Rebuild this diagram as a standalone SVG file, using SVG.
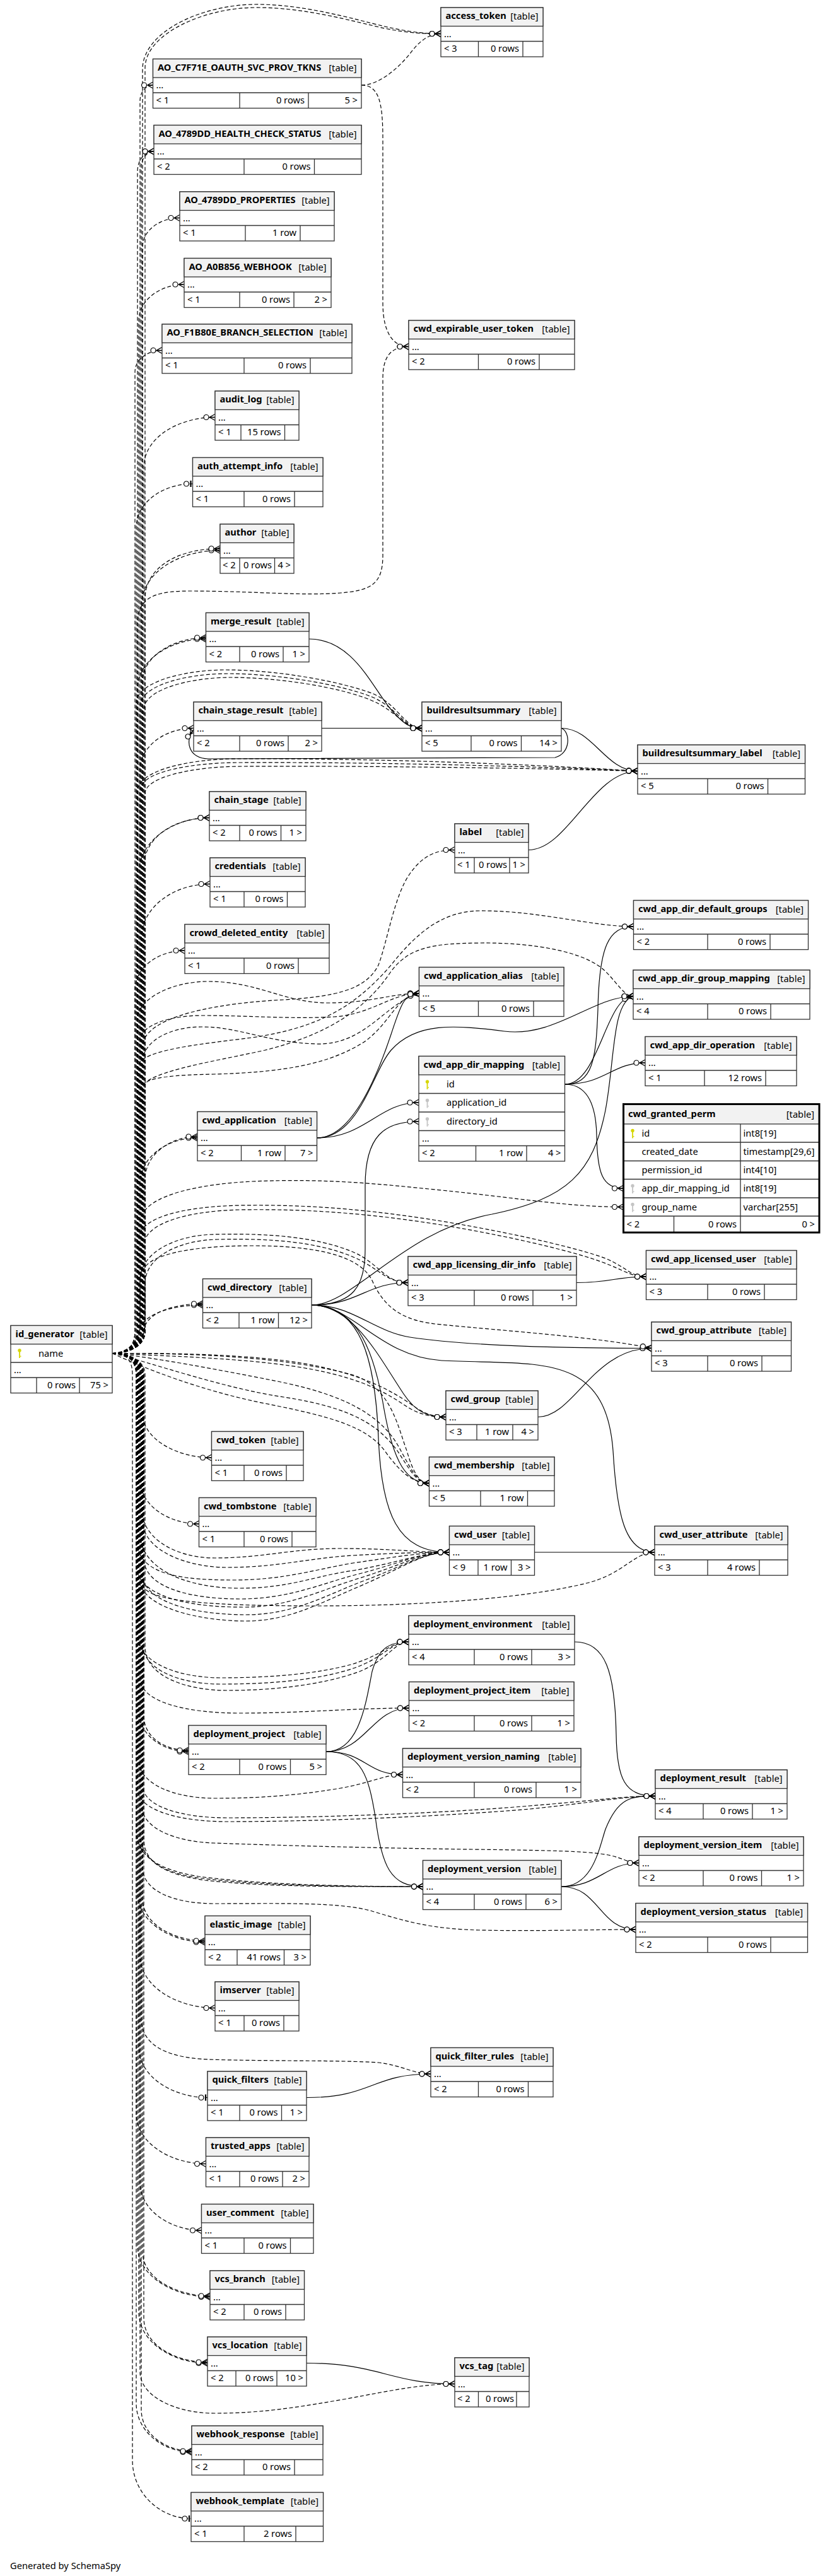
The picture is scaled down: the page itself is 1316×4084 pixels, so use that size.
<svg xmlns="http://www.w3.org/2000/svg" xmlns:xlink="http://www.w3.org/1999/xlink" width="1316" height="4084" viewBox="0 0 1316 4084">
<style>
.bx{fill:#fff;stroke:#333;stroke-width:1.3}
.hd{fill:#f2f2f2;stroke:#333;stroke-width:1.3}
.ln{fill:none;stroke:#333;stroke-width:1.3}
text{font-family:"Noto Sans","DejaVu Sans",sans-serif;font-size:14.67px;fill:#000}
.b{font-weight:bold}
.e{text-anchor:end}
#connectors path{fill:none;stroke:#000;stroke-width:1.2}
#connectors path.d{stroke-dasharray:6 3.5}
</style>
<defs>
<marker id="crow" markerUnits="userSpaceOnUse" orient="auto" refX="0" refY="0" markerWidth="30" markerHeight="20" overflow="visible">
<path d="M-9,0L0,-5M-9,0L0,0M-9,0L0,5" fill="none" stroke="#000" stroke-width="1.3"/>
<circle cx="-14" cy="0" r="4" fill="#fff" stroke="#000" stroke-width="1.2"/>
</marker>
<marker id="tee" markerUnits="userSpaceOnUse" orient="auto" refX="0" refY="0" markerWidth="30" markerHeight="20" overflow="visible">
<path d="M-3,-5V5" fill="none" stroke="#000" stroke-width="2.2"/>
<circle cx="-10" cy="0" r="4" fill="#fff" stroke="#000" stroke-width="1.2"/>
</marker>
<g id="key"><circle cx="0" cy="0" r="2.7"/><rect x="-0.9" y="2" width="1.8" height="10"/><rect x="0.9" y="8.5" width="1.6" height="1.4"/></g>
</defs>
<rect width="1316" height="4084" fill="#fff"/>

<g id="connectors">
<!-- solid relationships -->
<path marker-end="url(#crow)" d="M490,1013C560,1013 590,1090 620,1125C640,1148 650,1154.5 669,1154.5"/>
<path marker-end="url(#crow)" d="M510,1154.5L669,1154.5"/>
<path marker-end="url(#crow)" d="M890,1154.5C905,1160 905,1195 880,1201L330,1203C300,1203 292,1175 307,1157"/>
<path marker-end="url(#crow)" d="M890,1154.5C940,1154.5 960,1222.5 1011,1222.5"/>
<path marker-end="url(#crow)" d="M838,1347.5C900,1347.5 940,1222.5 1011,1222.5"/>
<path marker-end="url(#crow)" d="M502.5,1804C580,1804 600,1748 664,1748"/>
<path marker-end="url(#crow)" d="M502.5,1804C560,1804 600,1700 620,1640C635,1595 640,1575 664.5,1575"/>
<path marker-end="url(#crow)" d="M502.5,1804C570,1804 590,1700 620,1665C660,1620 720,1625 800,1635C880,1645 940,1580 1004,1579.5"/>
<path marker-end="url(#crow)" d="M895.5,1719C940,1719 945,1680 948,1600C950,1500 965,1469 1004.5,1469"/>
<path marker-end="url(#crow)" d="M895.5,1719C950,1719 960,1579.5 1004,1579.5"/>
<path marker-end="url(#crow)" d="M895.5,1719C960,1719 970,1685 1023,1685"/>
<path marker-end="url(#crow)" d="M895.5,1719C930,1719 945,1750 946,1800C947,1860 955,1884 988.5,1884"/>
<path marker-end="url(#crow)" d="M494,2069C560,2069 579,2040 579,1980L579,1880C579,1800 610,1778 664,1778"/>
<path marker-end="url(#crow)" d="M494,2069C560,2069 640,1950 780,1925C900,1900 940,1860 960,1760C975,1680 970,1590 1004,1579.5"/>
<path marker-end="url(#crow)" d="M494,2069C570,2069 580,2033.5 647,2033.5"/>
<path marker-end="url(#crow)" d="M914,2033.5C970,2033.5 975,2024 1024.5,2024"/>
<path marker-end="url(#crow)" d="M494,2069C560,2069 600,2150 640,2210C660,2240 680,2246.5 707,2246.5"/>
<path marker-end="url(#crow)" d="M494,2069C570,2069 595,2150 610,2240C625,2320 645,2351.5 680.5,2351.5"/>
<path marker-end="url(#crow)" d="M494,2069C570,2069 595,2150 600,2280C605,2400 630,2461 712.5,2461"/>
<path marker-end="url(#crow)" d="M494,2069C560,2069 590,2110 650,2120C750,2135 900,2137.5 1033,2137.5"/>
<path marker-end="url(#crow)" d="M494,2069C560,2069 600,2150 700,2157C850,2165 960,2140 972,2300C978,2400 990,2461 1038,2461"/>
<path marker-end="url(#crow)" d="M853,2246.5C910,2246.5 940,2137.5 1033,2137.5"/>
<path marker-end="url(#crow)" d="M847.5,2461L1038,2461"/>
<path marker-end="url(#crow)" d="M517,2777C570,2777 580,2700 590,2650C600,2615 615,2603 648,2603"/>
<path marker-end="url(#crow)" d="M517,2777C580,2777 590,2708 648.5,2708"/>
<path marker-end="url(#crow)" d="M517,2777C580,2777 580,2813.5 638.5,2813.5"/>
<path marker-end="url(#crow)" d="M517,2777C575,2777 585,2820 595,2880C605,2960 620,2991 670.5,2991"/>
<path marker-end="url(#crow)" d="M911,2603C960,2603 975,2650 977,2750C978,2820 990,2847.5 1039,2847.5"/>
<path marker-end="url(#crow)" d="M890,2991C940,2991 950,2930 960,2900C980,2850 1000,2847.5 1039,2847.5"/>
<path marker-end="url(#crow)" d="M890,2991C950,2991 960,2953.5 1013,2953.5"/>
<path marker-end="url(#crow)" d="M890,2991C950,2991 950,3059 1008,3059"/>
<path marker-end="url(#crow)" d="M486,3325.5C590,3325.5 590,3288 683,3288"/>
<path marker-end="url(#crow)" d="M486,3746.5C600,3746.5 620,3779.5 721,3779.5"/>
<!-- implied relationships -->
<path class="d" marker-end="url(#crow)" d="M573,135C600,135 630,110 650,85C665,65 680,53.5 699,53.5"/>
<path class="d" marker-end="url(#crow)" d="M573,135C600,135 607,160 607,220L607,480C607,530 625,549.5 648,549.5"/>
<path class="d" marker-end="url(#crow)" d="M178,2145.5C198,2145.5 226,2138 226,2110L226,110C226,50 320,8 403,7C480,6 560,30 610,42C650,51 675,53.5 699,53.5"/>
<path class="d" marker-end="url(#crow)" d="M178,2145.5C198,2145.5 230,2138 230,2110L230,108C230,54 322,13 403,12C482,11 560,34 610,45C650,53 675,53.5 699,53.5"/>
<path class="d" marker-end="url(#crow)" d="M178,2145.5C198,2145.5 222,2138 222,2110L222,160C222,145 232,135 242.5,135"/>
<path class="d" marker-end="url(#crow)" d="M178,2145.5C198,2145.5 224,2138 224,2110L224,265C224,250 234,240 244,240"/>
<path class="d" marker-end="url(#crow)" d="M178,2145.5C198,2145.5 218,2138 218,2110L218,272C218,252 231,240 244,240"/>
<path class="d" marker-end="url(#crow)" d="M178,2145.5C198,2145.5 226,2138 226,2110L226,392C226,364 255,345.5 285,345.5"/>
<path class="d" marker-end="url(#crow)" d="M178,2145.5C198,2145.5 220,2138 220,2110L220,509C220,474 256,451 292,451"/>
<path class="d" marker-end="url(#crow)" d="M178,2145.5C198,2145.5 214,2138 214,2110L214,590C214,569 235,555.5 257,555.5"/>
<path class="d" marker-end="url(#crow)" d="M178,2145.5C198,2145.5 228,2138 228,2110L228,741C228,693 284,661.5 341,661.5"/>
<path class="d" marker-end="url(#crow)" d="M178,2145.5C198,2145.5 218,2138 218,2110L218,990C218,950 240,937 300,937C400,937 480,945 540,940C590,936 607,925 607,880L607,600C607,565 620,549.5 648,549.5"/>
<path class="d" marker-end="url(#tee)" d="M178,2145.5C198,2145.5 216,2138 216,2110L216,837C216,795 260,767 305.5,767"/>
<path class="d" marker-end="url(#crow)" d="M178,2145.5C198,2145.5 224,2138 224,2110L224,962C224,906 286,872.5 349,872.5"/>
<path class="d" marker-end="url(#crow)" d="M178,2145.5C198,2145.5 230,2138 230,2110L230,950C230,895 290,869 349,870"/>
<path class="d" marker-end="url(#crow)" d="M178,2145.5C198,2145.5 218,2138 218,2110L218,1093C218,1045 272,1013 326.5,1013"/>
<path class="d" marker-end="url(#crow)" d="M178,2145.5C198,2145.5 226,2138 226,2110L226,1080C226,1040 276,1011 326.5,1011"/>
<path class="d" marker-end="url(#crow)" d="M178,2145.5C198,2145.5 222,2138 222,2110L222,1222C222,1181 264,1154.5 307,1154.5"/>
<path class="d" marker-end="url(#crow)" d="M178,2145.5C198,2145.5 222,2138 222,2110L222,1120C222,1085 300,1068 361,1068C440,1068 540,1085 590,1105C630,1122 640,1154.5 669,1154.5"/>
<path class="d" marker-end="url(#crow)" d="M178,2145.5C198,2145.5 228,2138 228,2110L228,1125C228,1092 305,1074 365,1074C445,1074 540,1090 588,1110C628,1126 640,1154.5 669,1154.5"/>
<path class="d" marker-end="url(#crow)" d="M178,2145.5C198,2145.5 216,2138 216,2110L216,1115C216,1080 296,1062 358,1062C438,1062 540,1080 592,1100C632,1118 642,1154.5 669,1154.5"/>
<path class="d" marker-end="url(#crow)" d="M178,2145.5C198,2145.5 224,2138 224,2110L224,1250C224,1225 300,1209 380,1209C600,1208 850,1215 1011,1222.5"/>
<path class="d" marker-end="url(#crow)" d="M178,2145.5C198,2145.5 218,2138 218,2110L218,1255C218,1222 296,1203 380,1203C600,1202 850,1212 1011,1222.5"/>
<path class="d" marker-end="url(#crow)" d="M178,2145.5C198,2145.5 230,2138 230,2110L230,1258C230,1232 305,1215 385,1215C600,1214 850,1218 1011,1222.5"/>
<path class="d" marker-end="url(#crow)" d="M178,2145.5C198,2145.5 220,2138 220,2110L220,1386C220,1332 276,1296.5 332,1296.5"/>
<path class="d" marker-end="url(#crow)" d="M178,2145.5C198,2145.5 228,2138 228,2110L228,1375C228,1325 280,1296.5 332,1296.5"/>
<path class="d" marker-end="url(#crow)" d="M178,2145.5C198,2145.5 226,2138 226,2110L226,1660C226,1610 350,1590 450,1585C530,1580 580,1570 600,1530C615,1490 625,1420 650,1385C670,1357 690,1347.5 721,1347.5"/>
<path class="d" marker-end="url(#crow)" d="M178,2145.5C198,2145.5 224,2138 224,2110L224,1489C224,1436 278,1401.5 333,1401.5"/>
<path class="d" marker-end="url(#crow)" d="M178,2145.5C198,2145.5 214,2138 214,2110L214,1570C214,1532 253,1507 293,1507"/>
<path class="d" marker-end="url(#crow)" d="M178,2145.5C198,2145.5 220,2138 220,2110L220,1690C220,1665 320,1655 400,1645C500,1630 560,1600 620,1530C660,1480 700,1445 760,1444C850,1443 940,1469 1004.5,1469"/>
<path class="d" marker-end="url(#crow)" d="M178,2145.5C198,2145.5 222,2138 222,2110L222,1730C222,1700 330,1685 420,1665C520,1640 580,1600 620,1540C650,1500 690,1496 760,1495C850,1494 930,1510 960,1540C980,1560 990,1579.5 1004,1579.5"/>
<path class="d" marker-end="url(#crow)" d="M178,2145.5C198,2145.5 218,2138 218,2110L218,1615C218,1585 270,1556 330,1556C410,1556 450,1590 520,1590C590,1590 620,1575 664.5,1575"/>
<path class="d" marker-end="url(#crow)" d="M178,2145.5C198,2145.5 222,2138 222,2110L222,1650C222,1625 270,1610 320,1610C400,1610 460,1616 530,1612C590,1608 620,1575 664.5,1575"/>
<path class="d" marker-end="url(#crow)" d="M178,2145.5C198,2145.5 226,2138 226,2110L226,1685C226,1650 270,1628 320,1628C380,1628 420,1652 500,1655C580,1658 610,1590 664.5,1575"/>
<path class="d" marker-end="url(#crow)" d="M178,2145.5C198,2145.5 230,2138 230,2110L230,1720C230,1708 280,1704 340,1703C440,1700 520,1690 580,1650C620,1620 630,1578 664.5,1575"/>
<path class="d" marker-end="url(#crow)" d="M178,2145.5C198,2145.5 222,2138 222,2110L222,1877C222,1833 267,1804 313,1804"/>
<path class="d" marker-end="url(#crow)" d="M178,2145.5C198,2145.5 230,2138 230,2110L230,1870C230,1830 270,1802 313,1802"/>
<path class="d" marker-end="url(#crow)" d="M178,2145.5C198,2145.5 224,2138 224,2110L224,1935C224,1900 300,1878 400,1873C520,1868 600,1877 700,1887C820,1899 900,1913.5 988.5,1913.5"/>
<path class="d" marker-end="url(#crow)" d="M178,2145.5C198,2145.5 220,2138 220,2110L220,1965C220,1930 290,1913 380,1911C500,1909 600,1920 700,1936C820,1956 920,1980 960,1995C995,2010 1000,2024 1024.5,2024"/>
<path class="d" marker-end="url(#crow)" d="M178,2145.5C198,2145.5 228,2138 228,2110L228,1975C228,1940 295,1920 380,1918C500,1916 600,1926 700,1942C820,1962 915,1986 955,2001C990,2014 1000,2024 1024.5,2024"/>
<path class="d" marker-end="url(#crow)" d="M178,2145.5C198,2145.5 222,2130 222,2100L222,2030C222,1985 280,1958 340,1957C420,1955 500,1960 560,1985C600,2002 610,2033.5 647,2033.5"/>
<path class="d" marker-end="url(#crow)" d="M178,2145.5C198,2145.5 230,2130 230,2100L230,2035C230,1992 285,1966 345,1965C425,1963 500,1968 558,1992C598,2008 612,2033.5 647,2033.5"/>
<path class="d" marker-end="url(#crow)" d="M178,2145.5C198,2145.5 220,2135 220,2115C220,2085 270,2069 321.5,2069"/>
<path class="d" marker-end="url(#crow)" d="M178,2145.5C200,2145.5 228,2132 228,2112C228,2082 275,2067 321.5,2067"/>
<path class="d" marker-end="url(#crow)" d="M178,2145.5C198,2145.5 226,2138 226,2110L226,2020C226,1990 300,1975 400,1975C500,1975 570,1990 590,2030C610,2075 640,2095 700,2100C800,2110 950,2120 1033,2137.5"/>
<path class="d" marker-end="url(#crow)" d="M178,2145.5C250,2145.5 400,2145 500,2165C580,2182 620,2205 650,2225C670,2240 685,2246.5 707,2246.5"/>
<path class="d" marker-end="url(#crow)" d="M178,2145.5C250,2150 400,2152 500,2172C580,2188 615,2210 645,2230C665,2243 685,2246.5 707,2246.5"/>
<path class="d" marker-end="url(#crow)" d="M178,2145.5C198,2145.5 226,2153 226,2180L226,2240C226,2282 281,2311 335.5,2311"/>
<path class="d" marker-end="url(#crow)" d="M178,2145.5C300,2145.5 450,2150 560,2180C620,2200 630,2260 645,2300C655,2335 665,2351.5 680.5,2351.5"/>
<path class="d" marker-end="url(#crow)" d="M178,2145.5C240,2160 350,2200 450,2215C560,2232 600,2260 630,2300C650,2330 660,2351.5 680.5,2351.5"/>
<path class="d" marker-end="url(#crow)" d="M178,2145.5C230,2170 320,2205 420,2225C520,2245 580,2260 610,2300C635,2335 655,2351.5 680.5,2351.5"/>
<path class="d" marker-end="url(#crow)" d="M178,2145.5C230,2150 340,2170 440,2190C540,2210 600,2240 630,2290C650,2325 660,2351.5 680.5,2351.5"/>
<path class="d" marker-end="url(#crow)" d="M178,2145.5C198,2145.5 222,2153 222,2180L222,2345C222,2388 269,2416 315.5,2416"/>
<path class="d" marker-end="url(#crow)" d="M178,2145.5C198,2145.5 224,2153 224,2180L224,2390C224,2440 280,2470 340,2470C420,2470 460,2455 540,2455C620,2455 660,2461 712.5,2461"/>
<path class="d" marker-end="url(#crow)" d="M178,2145.5C198,2145.5 222,2153 222,2180L222,2430C222,2490 300,2518 380,2518C460,2518 500,2498 560,2490C630,2478 670,2461 712.5,2461"/>
<path class="d" marker-end="url(#crow)" d="M178,2145.5C198,2145.5 220,2153 220,2180L220,2500C220,2550 320,2570 390,2570C460,2570 510,2540 570,2515C640,2485 670,2461 712.5,2461"/>
<path class="d" marker-end="url(#crow)" d="M178,2145.5C198,2145.5 226,2153 226,2180L226,2410C226,2460 300,2485 360,2485C440,2485 490,2470 560,2466C630,2462 670,2461 712.5,2461"/>
<path class="d" marker-end="url(#crow)" d="M178,2145.5C198,2145.5 218,2153 218,2180L218,2445C218,2500 300,2505 370,2505C450,2505 500,2488 560,2478C630,2468 670,2461 712.5,2461"/>
<path class="d" marker-end="url(#crow)" d="M178,2145.5C198,2145.5 228,2153 228,2180L228,2470C228,2520 310,2535 380,2535C460,2535 510,2510 570,2495C635,2478 670,2461 712.5,2461"/>
<path class="d" marker-end="url(#crow)" d="M178,2145.5C198,2145.5 216,2153 216,2180L216,2480C216,2535 310,2548 385,2548C460,2548 510,2520 570,2502C635,2482 670,2461 712.5,2461"/>
<path class="d" marker-end="url(#crow)" d="M178,2145.5C198,2145.5 224,2153 224,2180L224,2490C224,2545 320,2560 390,2560C465,2560 515,2530 572,2508C638,2484 672,2461 712.5,2461"/>
<path class="d" marker-end="url(#crow)" d="M178,2145.5C198,2145.5 226,2153 226,2180L226,2510C226,2535 300,2546 500,2546C700,2546 850,2530 930,2510C990,2495 1005,2461 1038,2461"/>
<path class="d" marker-end="url(#crow)" d="M178,2145.5C198,2145.5 224,2153 224,2180L224,2600C224,2650 290,2670 350,2670C420,2670 500,2665 560,2645C610,2628 620,2603 648,2603"/>
<path class="d" marker-end="url(#crow)" d="M178,2145.5C198,2145.5 218,2153 218,2180L218,2590C218,2640 290,2660 350,2660C420,2660 500,2655 560,2638C610,2622 620,2603 648,2603"/>
<path class="d" marker-end="url(#crow)" d="M178,2145.5C198,2145.5 230,2153 230,2180L230,2610C230,2660 300,2680 360,2680C430,2680 510,2672 570,2650C615,2632 625,2603 648,2603"/>
<path class="d" marker-end="url(#crow)" d="M178,2145.5C198,2145.5 222,2153 222,2180L222,2660C222,2700 300,2716 380,2716C480,2716 560,2708 648.5,2708"/>
<path class="d" marker-end="url(#crow)" d="M178,2145.5C198,2145.5 220,2153 220,2180L220,2712C220,2752 260,2777 299,2777"/>
<path class="d" marker-end="url(#crow)" d="M178,2145.5C198,2145.5 228,2153 228,2180L228,2720C228,2755 262,2775 299,2775"/>
<path class="d" marker-end="url(#crow)" d="M178,2145.5C198,2145.5 220,2153 220,2180L220,2790C220,2830 280,2851 340,2851C420,2851 480,2845 540,2835C590,2826 610,2813.5 638.5,2813.5"/>
<path class="d" marker-end="url(#crow)" d="M178,2145.5C198,2145.5 226,2153 226,2180L226,2830C226,2865 290,2882 360,2882C500,2882 700,2875 840,2863C940,2855 990,2847.5 1039,2847.5"/>
<path class="d" marker-end="url(#crow)" d="M178,2145.5C198,2145.5 218,2153 218,2180L218,2835C218,2872 290,2888 360,2888C500,2888 700,2880 840,2868C940,2858 990,2847.5 1039,2847.5"/>
<path class="d" marker-end="url(#crow)" d="M178,2145.5C198,2145.5 224,2153 224,2180L224,2860C224,2900 280,2920 340,2922C450,2926 600,2930 750,2932C900,2934 950,2935 980,2945C995,2950 1000,2953.5 1013,2953.5"/>
<path class="d" marker-end="url(#crow)" d="M178,2145.5C198,2145.5 222,2153 222,2180L222,2905C222,2950 260,2970 320,2978C420,2990 550,2991 670.5,2991"/>
<path class="d" marker-end="url(#crow)" d="M178,2145.5C198,2145.5 228,2153 228,2180L228,2915C228,2955 265,2972 325,2981C425,2992 550,2991 670.5,2991"/>
<path class="d" marker-end="url(#crow)" d="M178,2145.5C198,2145.5 216,2153 216,2180L216,2900C216,2945 255,2965 315,2975C415,2988 550,2991 670.5,2991"/>
<path class="d" marker-end="url(#crow)" d="M178,2145.5C198,2145.5 226,2153 226,2180L226,2960C226,3000 280,3018 340,3018C440,3018 540,3015 590,3030C640,3045 680,3058 760,3060C850,3062 950,3059 1008,3059"/>
<path class="d" marker-end="url(#crow)" d="M178,2145.5C198,2145.5 218,2153 218,2180L218,3000C218,3048 272,3079 325,3079"/>
<path class="d" marker-end="url(#crow)" d="M178,2145.5C198,2145.5 226,2153 226,2180L226,3010C226,3050 275,3077 325,3077"/>
<path class="d" marker-end="url(#crow)" d="M178,2145.5C198,2145.5 222,2153 222,2180L222,3100C222,3150 282,3183.5 341,3183.5"/>
<path class="d" marker-end="url(#crow)" d="M178,2145.5C198,2145.5 224,2153 224,2180L224,3200C224,3240 260,3262 330,3265C420,3268 540,3266 600,3270C640,3275 655,3288 683,3288"/>
<path class="d" marker-end="url(#tee)" d="M178,2145.5C198,2145.5 220,2153 220,2180L220,3245C220,3293 275,3325.5 329,3325.5"/>
<path class="d" marker-end="url(#crow)" d="M178,2145.5C198,2145.5 216,2153 216,2180L216,3350C216,3398 271,3430.5 326.5,3430.5"/>
<path class="d" marker-end="url(#crow)" d="M178,2145.5C198,2145.5 222,2153 222,2180L222,3460C222,3505 271,3536 319.5,3536"/>
<path class="d" marker-end="url(#crow)" d="M178,2145.5C198,2145.5 218,2153 218,2180L218,3560C218,3609 276,3641.5 333,3641.5"/>
<path class="d" marker-end="url(#crow)" d="M178,2145.5C198,2145.5 226,2153 226,2180L226,3570C226,3612 280,3640 333,3640"/>
<path class="d" marker-end="url(#crow)" d="M178,2145.5C198,2145.5 220,2153 220,2180L220,3665C220,3714 275,3746.5 329,3746.5"/>
<path class="d" marker-end="url(#crow)" d="M178,2145.5C198,2145.5 228,2153 228,2180L228,3675C228,3718 278,3745 329,3745"/>
<path class="d" marker-end="url(#crow)" d="M178,2145.5C198,2145.5 222,2153 222,2180L222,3760C222,3800 280,3826 340,3826C420,3826 480,3815 550,3803C620,3790 670,3779.5 721,3779.5"/>
<path class="d" marker-end="url(#crow)" d="M178,2145.5C198,2145.5 216,2153 216,2180L216,3810C216,3856 260,3887.5 304,3887.5"/>
<path class="d" marker-end="url(#crow)" d="M178,2145.5C198,2145.5 224,2153 224,2180L224,3820C224,3860 264,3886 304,3886"/>
<path class="d" marker-end="url(#tee)" d="M178,2145.5C198,2145.5 210,2153 210,2180L210,3900C210,3955 256,3993 303,3993"/>
</g>

<g id="access_token"><rect class="bx" x="699" y="12" width="162" height="78"/><rect class="hd" x="699" y="12" width="162" height="29.5"/><path class="ln" d="M699,65.5H861M758.5,65.5V90M829,65.5V90"/><text class="b" x="706.5" y="30">access_token</text><text class="e" x="853.5" y="31">[table]</text><text x="704" y="58.5">...</text><text x="704" y="82">&lt; 3</text><text class="e" x="823" y="82">0 rows</text></g>
<g id="AO_C7F71E_OAUTH_SVC_PROV_TKNS"><rect class="bx" x="242.5" y="93.5" width="330.5" height="78"/><rect class="hd" x="242.5" y="93.5" width="330.5" height="29.5"/><path class="ln" d="M242.5,147H573M380,147V171.5M489,147V171.5"/><text class="b" x="250" y="111.5">AO_C7F71E_OAUTH_SVC_PROV_TKNS</text><text class="e" x="565.5" y="112.5">[table]</text><text x="247.5" y="140">...</text><text x="247.5" y="163.5">&lt; 1</text><text class="e" x="483" y="163.5">0 rows</text><text class="e" x="567" y="163.5">5 &gt;</text></g>
<g id="AO_4789DD_HEALTH_CHECK_STATUS"><rect class="bx" x="244" y="198.5" width="329" height="78"/><rect class="hd" x="244" y="198.5" width="329" height="29.5"/><path class="ln" d="M244,252H573M387,252V276.5M498.5,252V276.5"/><text class="b" x="251.5" y="216.5">AO_4789DD_HEALTH_CHECK_STATUS</text><text class="e" x="565.5" y="217.5">[table]</text><text x="249" y="245">...</text><text x="249" y="268.5">&lt; 2</text><text class="e" x="492.5" y="268.5">0 rows</text></g>
<g id="AO_4789DD_PROPERTIES"><rect class="bx" x="285" y="304" width="245" height="78"/><rect class="hd" x="285" y="304" width="245" height="29.5"/><path class="ln" d="M285,357.5H530M389,357.5V382M476,357.5V382"/><text class="b" x="292.5" y="322">AO_4789DD_PROPERTIES</text><text class="e" x="522.5" y="323">[table]</text><text x="290" y="350.5">...</text><text x="290" y="374">&lt; 1</text><text class="e" x="470" y="374">1 row</text></g>
<g id="AO_A0B856_WEBHOOK"><rect class="bx" x="292" y="409.5" width="233" height="78"/><rect class="hd" x="292" y="409.5" width="233" height="29.5"/><path class="ln" d="M292,463H525M380,463V487.5M466,463V487.5"/><text class="b" x="299.5" y="427.5">AO_A0B856_WEBHOOK</text><text class="e" x="517.5" y="428.5">[table]</text><text x="297" y="456">...</text><text x="297" y="479.5">&lt; 1</text><text class="e" x="460" y="479.5">0 rows</text><text class="e" x="519" y="479.5">2 &gt;</text></g>
<g id="AO_F1B80E_BRANCH_SELECTION"><rect class="bx" x="257" y="514" width="301" height="78"/><rect class="hd" x="257" y="514" width="301" height="29.5"/><path class="ln" d="M257,567.5H558M387,567.5V592M492,567.5V592"/><text class="b" x="264.5" y="532">AO_F1B80E_BRANCH_SELECTION</text><text class="e" x="550.5" y="533">[table]</text><text x="262" y="560.5">...</text><text x="262" y="584">&lt; 1</text><text class="e" x="486" y="584">0 rows</text></g>
<g id="audit_log"><rect class="bx" x="341" y="620" width="133" height="78"/><rect class="hd" x="341" y="620" width="133" height="29.5"/><path class="ln" d="M341,673.5H474M382,673.5V698M451.5,673.5V698"/><text class="b" x="348.5" y="638">audit_log</text><text class="e" x="466.5" y="639">[table]</text><text x="346" y="666.5">...</text><text x="346" y="690">&lt; 1</text><text class="e" x="445.5" y="690">15 rows</text></g>
<g id="cwd_expirable_user_token"><rect class="bx" x="648" y="508" width="263" height="78"/><rect class="hd" x="648" y="508" width="263" height="29.5"/><path class="ln" d="M648,561.5H911M758.5,561.5V586M855,561.5V586"/><text class="b" x="655.5" y="526">cwd_expirable_user_token</text><text class="e" x="903.5" y="527">[table]</text><text x="653" y="554.5">...</text><text x="653" y="578">&lt; 2</text><text class="e" x="849" y="578">0 rows</text></g>
<g id="auth_attempt_info"><rect class="bx" x="305.5" y="725.5" width="206.5" height="78"/><rect class="hd" x="305.5" y="725.5" width="206.5" height="29.5"/><path class="ln" d="M305.5,779H512M387,779V803.5M467,779V803.5"/><text class="b" x="313" y="743.5">auth_attempt_info</text><text class="e" x="504.5" y="744.5">[table]</text><text x="310.5" y="772">...</text><text x="310.5" y="795.5">&lt; 1</text><text class="e" x="461" y="795.5">0 rows</text></g>
<g id="author"><rect class="bx" x="349" y="831" width="117" height="78"/><rect class="hd" x="349" y="831" width="117" height="29.5"/><path class="ln" d="M349,884.5H466M380,884.5V909M435.5,884.5V909"/><text class="b" x="356.5" y="849">author</text><text class="e" x="458.5" y="850">[table]</text><text x="354" y="877.5">...</text><text x="353" y="901">&lt; 2</text><text class="e" x="431" y="901">0 rows</text><text class="e" x="461" y="901">4 &gt;</text></g>
<g id="merge_result"><rect class="bx" x="326.5" y="971.5" width="163.5" height="78"/><rect class="hd" x="326.5" y="971.5" width="163.5" height="29.5"/><path class="ln" d="M326.5,1025H490M380,1025V1049.5M449,1025V1049.5"/><text class="b" x="334" y="989.5">merge_result</text><text class="e" x="482.5" y="990.5">[table]</text><text x="331.5" y="1018">...</text><text x="331.5" y="1041.5">&lt; 2</text><text class="e" x="443" y="1041.5">0 rows</text><text class="e" x="484" y="1041.5">1 &gt;</text></g>
<g id="chain_stage_result"><rect class="bx" x="307" y="1113" width="203" height="78"/><rect class="hd" x="307" y="1113" width="203" height="29.5"/><path class="ln" d="M307,1166.5H510M380,1166.5V1191M457,1166.5V1191"/><text class="b" x="314.5" y="1131">chain_stage_result</text><text class="e" x="502.5" y="1132">[table]</text><text x="312" y="1159.5">...</text><text x="312" y="1183">&lt; 2</text><text class="e" x="451" y="1183">0 rows</text><text class="e" x="504" y="1183">2 &gt;</text></g>
<g id="buildresultsummary"><rect class="bx" x="669" y="1113" width="221" height="78"/><rect class="hd" x="669" y="1113" width="221" height="29.5"/><path class="ln" d="M669,1166.5H890M747,1166.5V1191M826.5,1166.5V1191"/><text class="b" x="676.5" y="1131">buildresultsummary</text><text class="e" x="882.5" y="1132">[table]</text><text x="674" y="1159.5">...</text><text x="674" y="1183">&lt; 5</text><text class="e" x="820.5" y="1183">0 rows</text><text class="e" x="884" y="1183">14 &gt;</text></g>
<g id="buildresultsummary_label"><rect class="bx" x="1011" y="1181" width="265.5" height="78"/><rect class="hd" x="1011" y="1181" width="265.5" height="29.5"/><path class="ln" d="M1011,1234.5H1276.5M1122,1234.5V1259M1217.5,1234.5V1259"/><text class="b" x="1018.5" y="1199">buildresultsummary_label</text><text class="e" x="1269" y="1200">[table]</text><text x="1016" y="1227.5">...</text><text x="1016" y="1251">&lt; 5</text><text class="e" x="1211.5" y="1251">0 rows</text></g>
<g id="chain_stage"><rect class="bx" x="332" y="1255" width="153" height="78"/><rect class="hd" x="332" y="1255" width="153" height="29.5"/><path class="ln" d="M332,1308.5H485M380,1308.5V1333M445.5,1308.5V1333"/><text class="b" x="339.5" y="1273">chain_stage</text><text class="e" x="477.5" y="1274">[table]</text><text x="337" y="1301.5">...</text><text x="337" y="1325">&lt; 2</text><text class="e" x="439.5" y="1325">0 rows</text><text class="e" x="479" y="1325">1 &gt;</text></g>
<g id="label"><rect class="bx" x="721" y="1306" width="117" height="78"/><rect class="hd" x="721" y="1306" width="117" height="29.5"/><path class="ln" d="M721,1359.5H838M752,1359.5V1384M808,1359.5V1384"/><text class="b" x="728.5" y="1324">label</text><text class="e" x="830.5" y="1325">[table]</text><text x="726" y="1352.5">...</text><text x="725" y="1376">&lt; 1</text><text class="e" x="804" y="1376">0 rows</text><text class="e" x="833" y="1376">1 &gt;</text></g>
<g id="credentials"><rect class="bx" x="333" y="1360" width="151" height="78"/><rect class="hd" x="333" y="1360" width="151" height="29.5"/><path class="ln" d="M333,1413.5H484M387,1413.5V1438M455.5,1413.5V1438"/><text class="b" x="340.5" y="1378">credentials</text><text class="e" x="476.5" y="1379">[table]</text><text x="338" y="1406.5">...</text><text x="338" y="1430">&lt; 1</text><text class="e" x="449.5" y="1430">0 rows</text></g>
<g id="crowd_deleted_entity"><rect class="bx" x="293" y="1465.5" width="229" height="78"/><rect class="hd" x="293" y="1465.5" width="229" height="29.5"/><path class="ln" d="M293,1519H522M387,1519V1543.5M473,1519V1543.5"/><text class="b" x="300.5" y="1483.5">crowd_deleted_entity</text><text class="e" x="514.5" y="1484.5">[table]</text><text x="298" y="1512">...</text><text x="298" y="1535.5">&lt; 1</text><text class="e" x="467" y="1535.5">0 rows</text></g>
<g id="cwd_app_dir_default_groups"><rect class="bx" x="1004.5" y="1427.5" width="277" height="78"/><rect class="hd" x="1004.5" y="1427.5" width="277" height="29.5"/><path class="ln" d="M1004.5,1481H1281.5M1122,1481V1505.5M1221,1481V1505.5"/><text class="b" x="1012" y="1445.5">cwd_app_dir_default_groups</text><text class="e" x="1274" y="1446.5">[table]</text><text x="1009.5" y="1474">...</text><text x="1009.5" y="1497.5">&lt; 2</text><text class="e" x="1215" y="1497.5">0 rows</text></g>
<g id="cwd_application_alias"><rect class="bx" x="664.5" y="1533.5" width="229.5" height="78"/><rect class="hd" x="664.5" y="1533.5" width="229.5" height="29.5"/><path class="ln" d="M664.5,1587H894M758.5,1587V1611.5M846,1587V1611.5"/><text class="b" x="672" y="1551.5">cwd_application_alias</text><text class="e" x="886.5" y="1552.5">[table]</text><text x="669.5" y="1580">...</text><text x="669.5" y="1603.5">&lt; 5</text><text class="e" x="840" y="1603.5">0 rows</text></g>
<g id="cwd_app_dir_group_mapping"><rect class="bx" x="1004" y="1538" width="280" height="78"/><rect class="hd" x="1004" y="1538" width="280" height="29.5"/><path class="ln" d="M1004,1591.5H1284M1122,1591.5V1616M1222,1591.5V1616"/><text class="b" x="1011.5" y="1556">cwd_app_dir_group_mapping</text><text class="e" x="1276.5" y="1557">[table]</text><text x="1009" y="1584.5">...</text><text x="1009" y="1608">&lt; 4</text><text class="e" x="1216" y="1608">0 rows</text></g>
<g id="cwd_app_dir_operation"><rect class="bx" x="1023" y="1643.5" width="240" height="78"/><rect class="hd" x="1023" y="1643.5" width="240" height="29.5"/><path class="ln" d="M1023,1697H1263M1117,1697V1721.5M1214,1697V1721.5"/><text class="b" x="1030.5" y="1661.5">cwd_app_dir_operation</text><text class="e" x="1255.5" y="1662.5">[table]</text><text x="1028" y="1690">...</text><text x="1028" y="1713.5">&lt; 1</text><text class="e" x="1208" y="1713.5">12 rows</text></g>
<g id="cwd_app_dir_mapping"><rect class="bx" x="664" y="1674.5" width="231.5" height="166.5"/><rect class="hd" x="664" y="1674.5" width="231.5" height="29.5"/><path class="ln" d="M664,1733.5H895.5M664,1763H895.5M664,1792.5H895.5M664,1816.5H895.5M754.5,1816.5V1841M835,1816.5V1841"/><text class="b" x="671.5" y="1692.5">cwd_app_dir_mapping</text><text class="e" x="888" y="1693.5">[table]</text><use href="#key" x="677.5" y="1715" fill="#d6d600"/><use href="#key" x="677.5" y="1744.5" fill="#c4c4c4"/><use href="#key" x="677.5" y="1774" fill="#c4c4c4"/><text x="708" y="1723.5">id</text><text x="708" y="1753">application_id</text><text x="708" y="1782.5">directory_id</text><text x="669" y="1809.5">...</text><text x="669" y="1833">&lt; 2</text><text class="e" x="829" y="1833">1 row</text><text class="e" x="889.5" y="1833">4 &gt;</text></g>
<g id="cwd_granted_perm"><rect x="988.5" y="1750.5" width="310.5" height="203.5" fill="#fff"/><rect class="hd" x="988.5" y="1750.5" width="310.5" height="31.5"/><path class="ln" d="M988.5,1811H1299M988.5,1840.5H1299M988.5,1869.5H1299M988.5,1899H1299M988.5,1928H1299M1174,1782V1954M1068.5,1928V1954"/><rect x="988.5" y="1750.5" width="310.5" height="203.5" fill="none" stroke="#000" stroke-width="3"/><text class="b" x="996" y="1771">cwd_granted_perm</text><text class="e" x="1291" y="1772">[table]</text><use href="#key" x="1003" y="1792.5" fill="#d6d600"/><use href="#key" x="1003" y="1880" fill="#c4c4c4"/><use href="#key" x="1003" y="1909.5" fill="#c4c4c4"/><text x="1017.5" y="1801.5">id</text><text x="1017.5" y="1830.5">created_date</text><text x="1017.5" y="1860">permission_id</text><text x="1017.5" y="1889">app_dir_mapping_id</text><text x="1017.5" y="1918.5">group_name</text><text x="1178.5" y="1801.5">int8[19]</text><text x="1178.5" y="1830.5">timestamp[29,6]</text><text x="1178.5" y="1860">int4[10]</text><text x="1178.5" y="1889">int8[19]</text><text x="1178.5" y="1918.5">varchar[255]</text><text x="993.5" y="1946">&lt; 2</text><text class="e" x="1168" y="1946">0 rows</text><text class="e" x="1292" y="1946">0 &gt;</text></g>
<g id="cwd_application"><rect class="bx" x="313" y="1762.5" width="189.5" height="78"/><rect class="hd" x="313" y="1762.5" width="189.5" height="29.5"/><path class="ln" d="M313,1816H502.5M382.5,1816V1840.5M452,1816V1840.5"/><text class="b" x="320.5" y="1780.5">cwd_application</text><text class="e" x="495" y="1781.5">[table]</text><text x="318" y="1809">...</text><text x="318" y="1832.5">&lt; 2</text><text class="e" x="446" y="1832.5">1 row</text><text class="e" x="496.5" y="1832.5">7 &gt;</text></g>
<g id="cwd_app_licensing_dir_info"><rect class="bx" x="647" y="1992" width="267" height="78"/><rect class="hd" x="647" y="1992" width="267" height="29.5"/><path class="ln" d="M647,2045.5H914M752,2045.5V2070M845,2045.5V2070"/><text class="b" x="654.5" y="2010">cwd_app_licensing_dir_info</text><text class="e" x="906.5" y="2011">[table]</text><text x="652" y="2038.5">...</text><text x="652" y="2062">&lt; 3</text><text class="e" x="839" y="2062">0 rows</text><text class="e" x="908" y="2062">1 &gt;</text></g>
<g id="cwd_app_licensed_user"><rect class="bx" x="1024.5" y="1982.5" width="238.5" height="78"/><rect class="hd" x="1024.5" y="1982.5" width="238.5" height="29.5"/><path class="ln" d="M1024.5,2036H1263M1122,2036V2060.5M1212,2036V2060.5"/><text class="b" x="1032" y="2000.5">cwd_app_licensed_user</text><text class="e" x="1255.5" y="2001.5">[table]</text><text x="1029.5" y="2029">...</text><text x="1029.5" y="2052.5">&lt; 3</text><text class="e" x="1206" y="2052.5">0 rows</text></g>
<g id="cwd_directory"><rect class="bx" x="321.5" y="2027.5" width="172.5" height="78"/><rect class="hd" x="321.5" y="2027.5" width="172.5" height="29.5"/><path class="ln" d="M321.5,2081H494M379,2081V2105.5M441.5,2081V2105.5"/><text class="b" x="329" y="2045.5">cwd_directory</text><text class="e" x="486.5" y="2046.5">[table]</text><text x="326.5" y="2074">...</text><text x="326.5" y="2097.5">&lt; 2</text><text class="e" x="435.5" y="2097.5">1 row</text><text class="e" x="488" y="2097.5">12 &gt;</text></g>
<g id="cwd_group_attribute"><rect class="bx" x="1033" y="2096" width="221.5" height="78"/><rect class="hd" x="1033" y="2096" width="221.5" height="29.5"/><path class="ln" d="M1033,2149.5H1254.5M1122,2149.5V2174M1208,2149.5V2174"/><text class="b" x="1040.5" y="2114">cwd_group_attribute</text><text class="e" x="1247" y="2115">[table]</text><text x="1038" y="2142.5">...</text><text x="1038" y="2166">&lt; 3</text><text class="e" x="1202" y="2166">0 rows</text></g>
<g id="id_generator"><rect class="bx" x="17" y="2101.5" width="161" height="107"/><rect class="hd" x="17" y="2101.5" width="161" height="29.5"/><path class="ln" d="M17,2160H178M17,2184H178M58,2184V2208.5M126,2184V2208.5"/><text class="b" x="24.5" y="2119.5">id_generator</text><text class="e" x="170.5" y="2120.5">[table]</text><use href="#key" x="31" y="2141" fill="#d6d600"/><text x="61" y="2150.5">name</text><text x="22" y="2177">...</text><text class="e" x="120" y="2200.5">0 rows</text><text class="e" x="172" y="2200.5">75 &gt;</text></g>
<g id="cwd_group"><rect class="bx" x="707" y="2205" width="146" height="78"/><rect class="hd" x="707" y="2205" width="146" height="29.5"/><path class="ln" d="M707,2258.5H853M756,2258.5V2283M813,2258.5V2283"/><text class="b" x="714.5" y="2223">cwd_group</text><text class="e" x="845.5" y="2224">[table]</text><text x="712" y="2251.5">...</text><text x="712" y="2275">&lt; 3</text><text class="e" x="807" y="2275">1 row</text><text class="e" x="847" y="2275">4 &gt;</text></g>
<g id="cwd_token"><rect class="bx" x="335.5" y="2269.5" width="145.5" height="78"/><rect class="hd" x="335.5" y="2269.5" width="145.5" height="29.5"/><path class="ln" d="M335.5,2323H481M387,2323V2347.5M454,2323V2347.5"/><text class="b" x="343" y="2287.5">cwd_token</text><text class="e" x="473.5" y="2288.5">[table]</text><text x="340.5" y="2316">...</text><text x="340.5" y="2339.5">&lt; 1</text><text class="e" x="448" y="2339.5">0 rows</text></g>
<g id="cwd_membership"><rect class="bx" x="680.5" y="2310" width="198.5" height="78"/><rect class="hd" x="680.5" y="2310" width="198.5" height="29.5"/><path class="ln" d="M680.5,2363.5H879M762,2363.5V2388M836.5,2363.5V2388"/><text class="b" x="688" y="2328">cwd_membership</text><text class="e" x="871.5" y="2329">[table]</text><text x="685.5" y="2356.5">...</text><text x="685.5" y="2380">&lt; 5</text><text class="e" x="830.5" y="2380">1 row</text></g>
<g id="cwd_tombstone"><rect class="bx" x="315.5" y="2374.5" width="185.5" height="78"/><rect class="hd" x="315.5" y="2374.5" width="185.5" height="29.5"/><path class="ln" d="M315.5,2428H501M387,2428V2452.5M463,2428V2452.5"/><text class="b" x="323" y="2392.5">cwd_tombstone</text><text class="e" x="493.5" y="2393.5">[table]</text><text x="320.5" y="2421">...</text><text x="320.5" y="2444.5">&lt; 1</text><text class="e" x="457" y="2444.5">0 rows</text></g>
<g id="cwd_user"><rect class="bx" x="712.5" y="2419.5" width="135" height="78"/><rect class="hd" x="712.5" y="2419.5" width="135" height="29.5"/><path class="ln" d="M712.5,2473H847.5M758,2473V2497.5M810.5,2473V2497.5"/><text class="b" x="720" y="2437.5">cwd_user</text><text class="e" x="840" y="2438.5">[table]</text><text x="717.5" y="2466">...</text><text x="717.5" y="2489.5">&lt; 9</text><text class="e" x="804.5" y="2489.5">1 row</text><text class="e" x="841.5" y="2489.5">3 &gt;</text></g>
<g id="cwd_user_attribute"><rect class="bx" x="1038" y="2419.5" width="211" height="78"/><rect class="hd" x="1038" y="2419.5" width="211" height="29.5"/><path class="ln" d="M1038,2473H1249M1122,2473V2497.5M1204,2473V2497.5"/><text class="b" x="1045.5" y="2437.5">cwd_user_attribute</text><text class="e" x="1241.5" y="2438.5">[table]</text><text x="1043" y="2466">...</text><text x="1043" y="2489.5">&lt; 3</text><text class="e" x="1198" y="2489.5">4 rows</text></g>
<g id="deployment_environment"><rect class="bx" x="648" y="2561.5" width="263" height="78"/><rect class="hd" x="648" y="2561.5" width="263" height="29.5"/><path class="ln" d="M648,2615H911M752,2615V2639.5M843,2615V2639.5"/><text class="b" x="655.5" y="2579.5">deployment_environment</text><text class="e" x="903.5" y="2580.5">[table]</text><text x="653" y="2608">...</text><text x="653" y="2631.5">&lt; 4</text><text class="e" x="837" y="2631.5">0 rows</text><text class="e" x="905" y="2631.5">3 &gt;</text></g>
<g id="deployment_project_item"><rect class="bx" x="648.5" y="2666.5" width="261.5" height="78"/><rect class="hd" x="648.5" y="2666.5" width="261.5" height="29.5"/><path class="ln" d="M648.5,2720H910M752,2720V2744.5M843,2720V2744.5"/><text class="b" x="656" y="2684.5">deployment_project_item</text><text class="e" x="902.5" y="2685.5">[table]</text><text x="653.5" y="2713">...</text><text x="653.5" y="2736.5">&lt; 2</text><text class="e" x="837" y="2736.5">0 rows</text><text class="e" x="904" y="2736.5">1 &gt;</text></g>
<g id="deployment_project"><rect class="bx" x="299" y="2735.5" width="218" height="78"/><rect class="hd" x="299" y="2735.5" width="218" height="29.5"/><path class="ln" d="M299,2789H517M380,2789V2813.5M460.5,2789V2813.5"/><text class="b" x="306.5" y="2753.5">deployment_project</text><text class="e" x="509.5" y="2754.5">[table]</text><text x="304" y="2782">...</text><text x="304" y="2805.5">&lt; 2</text><text class="e" x="454.5" y="2805.5">0 rows</text><text class="e" x="511" y="2805.5">5 &gt;</text></g>
<g id="deployment_version_naming"><rect class="bx" x="638.5" y="2772" width="282.5" height="78"/><rect class="hd" x="638.5" y="2772" width="282.5" height="29.5"/><path class="ln" d="M638.5,2825.5H921M752,2825.5V2850M850,2825.5V2850"/><text class="b" x="646" y="2790">deployment_version_naming</text><text class="e" x="913.5" y="2791">[table]</text><text x="643.5" y="2818.5">...</text><text x="643.5" y="2842">&lt; 2</text><text class="e" x="844" y="2842">0 rows</text><text class="e" x="915" y="2842">1 &gt;</text></g>
<g id="deployment_result"><rect class="bx" x="1039" y="2806" width="209" height="78"/><rect class="hd" x="1039" y="2806" width="209" height="29.5"/><path class="ln" d="M1039,2859.5H1248M1115,2859.5V2884M1193,2859.5V2884"/><text class="b" x="1046.5" y="2824">deployment_result</text><text class="e" x="1240.5" y="2825">[table]</text><text x="1044" y="2852.5">...</text><text x="1044" y="2876">&lt; 4</text><text class="e" x="1187" y="2876">0 rows</text><text class="e" x="1242" y="2876">1 &gt;</text></g>
<g id="deployment_version_item"><rect class="bx" x="1013" y="2912" width="261" height="78"/><rect class="hd" x="1013" y="2912" width="261" height="29.5"/><path class="ln" d="M1013,2965.5H1274M1115,2965.5V2990M1207.5,2965.5V2990"/><text class="b" x="1020.5" y="2930">deployment_version_item</text><text class="e" x="1266.5" y="2931">[table]</text><text x="1018" y="2958.5">...</text><text x="1018" y="2982">&lt; 2</text><text class="e" x="1201.5" y="2982">0 rows</text><text class="e" x="1268" y="2982">1 &gt;</text></g>
<g id="deployment_version"><rect class="bx" x="670.5" y="2949.5" width="219.5" height="78"/><rect class="hd" x="670.5" y="2949.5" width="219.5" height="29.5"/><path class="ln" d="M670.5,3003H890M752,3003V3027.5M834,3003V3027.5"/><text class="b" x="678" y="2967.5">deployment_version</text><text class="e" x="882.5" y="2968.5">[table]</text><text x="675.5" y="2996">...</text><text x="675.5" y="3019.5">&lt; 4</text><text class="e" x="828" y="3019.5">0 rows</text><text class="e" x="884" y="3019.5">6 &gt;</text></g>
<g id="deployment_version_status"><rect class="bx" x="1008" y="3017.5" width="272.5" height="78"/><rect class="hd" x="1008" y="3017.5" width="272.5" height="29.5"/><path class="ln" d="M1008,3071H1280.5M1122,3071V3095.5M1222,3071V3095.5"/><text class="b" x="1015.5" y="3035.5">deployment_version_status</text><text class="e" x="1273" y="3036.5">[table]</text><text x="1013" y="3064">...</text><text x="1013" y="3087.5">&lt; 2</text><text class="e" x="1216" y="3087.5">0 rows</text></g>
<g id="elastic_image"><rect class="bx" x="325" y="3037.5" width="167" height="78"/><rect class="hd" x="325" y="3037.5" width="167" height="29.5"/><path class="ln" d="M325,3091H492M376,3091V3115.5M450.5,3091V3115.5"/><text class="b" x="332.5" y="3055.5">elastic_image</text><text class="e" x="484.5" y="3056.5">[table]</text><text x="330" y="3084">...</text><text x="330" y="3107.5">&lt; 2</text><text class="e" x="445" y="3107.5">41 rows</text><text class="e" x="486" y="3107.5">3 &gt;</text></g>
<g id="imserver"><rect class="bx" x="341" y="3142" width="133" height="78"/><rect class="hd" x="341" y="3142" width="133" height="29.5"/><path class="ln" d="M341,3195.5H474M387,3195.5V3220M450,3195.5V3220"/><text class="b" x="348.5" y="3160">imserver</text><text class="e" x="466.5" y="3161">[table]</text><text x="346" y="3188.5">...</text><text x="346" y="3212">&lt; 1</text><text class="e" x="444" y="3212">0 rows</text></g>
<g id="quick_filter_rules"><rect class="bx" x="683" y="3246.5" width="194" height="78"/><rect class="hd" x="683" y="3246.5" width="194" height="29.5"/><path class="ln" d="M683,3300H877M758.5,3300V3324.5M837.5,3300V3324.5"/><text class="b" x="690.5" y="3264.5">quick_filter_rules</text><text class="e" x="869.5" y="3265.5">[table]</text><text x="688" y="3293">...</text><text x="688" y="3316.5">&lt; 2</text><text class="e" x="831.5" y="3316.5">0 rows</text></g>
<g id="quick_filters"><rect class="bx" x="329" y="3284" width="157" height="78"/><rect class="hd" x="329" y="3284" width="157" height="29.5"/><path class="ln" d="M329,3337.5H486M380,3337.5V3362M446.5,3337.5V3362"/><text class="b" x="336.5" y="3302">quick_filters</text><text class="e" x="478.5" y="3303">[table]</text><text x="334" y="3330.5">...</text><text x="334" y="3354">&lt; 1</text><text class="e" x="440.5" y="3354">0 rows</text><text class="e" x="480" y="3354">1 &gt;</text></g>
<g id="trusted_apps"><rect class="bx" x="326.5" y="3389" width="163.5" height="78"/><rect class="hd" x="326.5" y="3389" width="163.5" height="29.5"/><path class="ln" d="M326.5,3442.5H490M380,3442.5V3467M448,3442.5V3467"/><text class="b" x="334" y="3407">trusted_apps</text><text class="e" x="482.5" y="3408">[table]</text><text x="331.5" y="3435.5">...</text><text x="331.5" y="3459">&lt; 1</text><text class="e" x="442" y="3459">0 rows</text><text class="e" x="484" y="3459">2 &gt;</text></g>
<g id="user_comment"><rect class="bx" x="319.5" y="3494.5" width="177.5" height="78"/><rect class="hd" x="319.5" y="3494.5" width="177.5" height="29.5"/><path class="ln" d="M319.5,3548H497M387,3548V3572.5M460.5,3548V3572.5"/><text class="b" x="327" y="3512.5">user_comment</text><text class="e" x="489.5" y="3513.5">[table]</text><text x="324.5" y="3541">...</text><text x="324.5" y="3564.5">&lt; 1</text><text class="e" x="454.5" y="3564.5">0 rows</text></g>
<g id="vcs_branch"><rect class="bx" x="333" y="3600" width="149.5" height="78"/><rect class="hd" x="333" y="3600" width="149.5" height="29.5"/><path class="ln" d="M333,3653.5H482.5M387,3653.5V3678M453,3653.5V3678"/><text class="b" x="340.5" y="3618">vcs_branch</text><text class="e" x="475" y="3619">[table]</text><text x="338" y="3646.5">...</text><text x="338" y="3670">&lt; 2</text><text class="e" x="447" y="3670">0 rows</text></g>
<g id="vcs_location"><rect class="bx" x="329" y="3705" width="157" height="78"/><rect class="hd" x="329" y="3705" width="157" height="29.5"/><path class="ln" d="M329,3758.5H486M374,3758.5V3783M439,3758.5V3783"/><text class="b" x="336.5" y="3723">vcs_location</text><text class="e" x="478.5" y="3724">[table]</text><text x="334" y="3751.5">...</text><text x="334" y="3775">&lt; 2</text><text class="e" x="434" y="3775">0 rows</text><text class="e" x="481" y="3775">10 &gt;</text></g>
<g id="vcs_tag"><rect class="bx" x="721" y="3738" width="118" height="78"/><rect class="hd" x="721" y="3738" width="118" height="29.5"/><path class="ln" d="M721,3791.5H839M758.5,3791.5V3816M819,3791.5V3816"/><text class="b" x="728.5" y="3756">vcs_tag</text><text class="e" x="831.5" y="3757">[table]</text><text x="726" y="3784.5">...</text><text x="725" y="3808">&lt; 2</text><text class="e" x="815" y="3808">0 rows</text></g>
<g id="webhook_response"><rect class="bx" x="304" y="3846" width="208" height="78"/><rect class="hd" x="304" y="3846" width="208" height="29.5"/><path class="ln" d="M304,3899.5H512M387,3899.5V3924M467,3899.5V3924"/><text class="b" x="311.5" y="3864">webhook_response</text><text class="e" x="504.5" y="3865">[table]</text><text x="309" y="3892.5">...</text><text x="309" y="3916">&lt; 2</text><text class="e" x="461" y="3916">0 rows</text></g>
<g id="webhook_template"><rect class="bx" x="303" y="3951.5" width="209.5" height="78"/><rect class="hd" x="303" y="3951.5" width="209.5" height="29.5"/><path class="ln" d="M303,4005H512.5M387,4005V4029.5M469,4005V4029.5"/><text class="b" x="310.5" y="3969.5">webhook_template</text><text class="e" x="505" y="3970.5">[table]</text><text x="308" y="3998">...</text><text x="308" y="4021.5">&lt; 1</text><text class="e" x="463" y="4021.5">2 rows</text></g>

<text x="16" y="4073">Generated by SchemaSpy</text>
</svg>
